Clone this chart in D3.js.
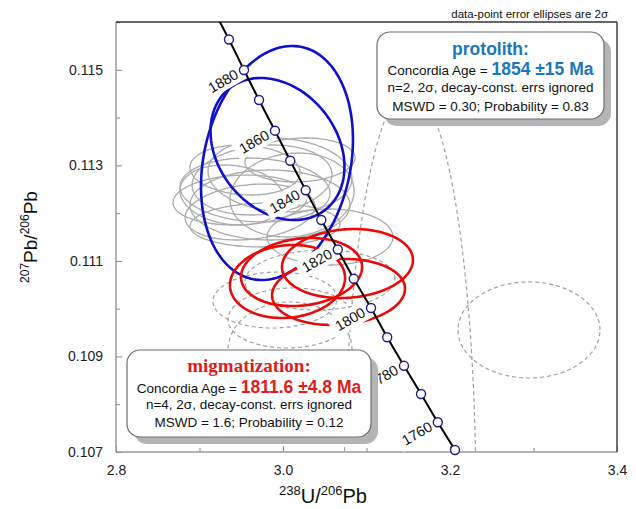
<!DOCTYPE html>
<html><head><meta charset="utf-8">
<script src="https://cdn.jsdelivr.net/npm/d3@7"></script>
<style>
body{margin:0;background:#fff}
svg{display:block}
text{font-family:"Liberation Sans",Arial,sans-serif}
</style>
</head><body>
<svg id="c" width="636" height="509"></svg>
<script>
// ---------- data ----------
const xDomain = [2.8, 3.4];
const yDomain = [0.107, 0.116];
const xMajorTicks = [2.8, 3.0, 3.2, 3.4];
const xMinorTicks = [2.9, 3.1, 3.3];
const yMajorTicks = [0.107, 0.109, 0.111, 0.113, 0.115];
const yMinorTicks = [0.108, 0.110, 0.112, 0.114, 0.116];

// concordia curve (age in Ma, 238U/206Pb, 207Pb/206Pb)
const concordiaAges = [1900,1890,1880,1870,1860,1850,1840,1830,1820,1810,1800,1790,1780,1770,1760,1750];
const concordiaX = [2.9168,2.9353,2.9533,2.9713,2.9904,3.0087,3.0272,3.0459,3.0656,3.0848,3.1054,3.1248,3.1449,3.1653,3.1854,3.2060];
const concordiaY = [0.116251,0.115634,0.114995,0.114367,0.113725,0.113097,0.112477,0.111856,0.111238,0.110625,0.110014,0.109401,0.108804,0.108214,0.107622,0.107042];
const markerAges = [1890,1880,1870,1860,1850,1840,1830,1820,1810,1800,1790,1780,1770,1760,1750];
const labelAges = [1880,1860,1840,1820,1800,1780,1760];

// error ellipses: centre x, centre y, 2σ x, 2σ y, correlation
const protolithEllipses = [
  {x:2.9928, y:0.113049, sx:0.0910, sy:0.002449, rho:0.2},
  {x:2.9934, y:0.113342, sx:0.0802, sy:0.001486, rho:-0.25}
];
const migmatizationEllipses = [
  {x:3.0054, y:0.110569, sx:0.0689, sy:0.000764, rho:0.1},
  {x:3.0222, y:0.110767, sx:0.0725, sy:0.000712, rho:0.15},
  {x:3.0772, y:0.110945, sx:0.0784, sy:0.000722, rho:0.1},
  {x:3.0665, y:0.110349, sx:0.0796, sy:0.000691, rho:0.1}
];
const otherEllipses = [
  {x:2.9485, y:0.112274, sx:0.0802, sy:0.000523, rho:0.1},
  {x:2.9665, y:0.112484, sx:0.0898, sy:0.000670, rho:-0.1},
  {x:2.9749, y:0.112693, sx:0.0838, sy:0.000733, rho:0.15},
  {x:2.9964, y:0.112798, sx:0.0862, sy:0.000774, rho:-0.1},
  {x:2.9605, y:0.112023, sx:0.0778, sy:0.000586, rho:0.2},
  {x:2.9844, y:0.112170, sx:0.0958, sy:0.000733, rho:0},
  {x:2.9389, y:0.112379, sx:0.0623, sy:0.000628, rho:-0.15},
  {x:3.0108, y:0.112379, sx:0.0743, sy:0.000879, rho:0.1},
  {x:2.9784, y:0.111751, sx:0.0898, sy:0.000460, rho:0.05},
  {x:3.0563, y:0.111500, sx:0.0754, sy:0.000586, rho:0},
  {x:3.0204, y:0.113112, sx:0.0659, sy:0.000460, rho:0.1},
  {x:2.9545, y:0.112902, sx:0.0659, sy:0.000523, rho:-0.1}
];
const excludedEllipses = [
  {x:3.1521, y:0.105995, sx:0.0790, sy:0.008602, rho:0},
  {x:3.2946, y:0.109554, sx:0.0850, sy:0.001005, rho:0},
  {x:2.9904, y:0.110181, sx:0.0743, sy:0.000586, rho:0.05},
  {x:3.0084, y:0.109805, sx:0.0743, sy:0.000628, rho:0.05},
  {x:3.0443, y:0.110600, sx:0.0898, sy:0.000628, rho:0.05},
  {x:3.0084, y:0.109135, sx:0.0743, sy:0.001005, rho:0}
];

const noteText = "data-point error ellipses are 2σ";
const protolithLines = ["protolith:", "Concordia Age = ", "1854 ±15 Ma", "n=2, 2σ, decay-const. errs ignored", "MSWD = 0.30; Probability  = 0.83"];
const migmatizationLines = ["migmatization:", "Concordia Age = ", "1811.6 ±4.8 Ma", "n=4, 2σ, decay-const. errs ignored", "MSWD = 1.6; Probability  = 0.12"];

// ---------- drawing ----------
const svg = d3.select("#c");
const L = 116, R = 617, T = 22, B = 452;
const x = d3.scaleLinear().domain(xDomain).range([L, R]);
const y = d3.scaleLinear().domain(yDomain).range([B, T]);

svg.append("defs").append("clipPath").attr("id","plotclip")
  .append("rect").attr("x",L).attr("y",T).attr("width",R-L).attr("height",B-T);

// ticks
function tickAxis(gen, vals, size, tr, fmt) {
  const g = svg.append("g").attr("transform", tr)
    .call(gen.tickValues(vals).tickSizeInner(-size).tickSizeOuter(0).tickPadding(13).tickFormat(fmt));
  g.select(".domain").remove();
  g.selectAll(".tick line").attr("stroke","#888").attr("stroke-width",1);
  g.selectAll(".tick text").attr("fill","#222").style("font-size","14px")
    .style("font-family","'Liberation Sans',Arial,sans-serif");
  return g;
}
tickAxis(d3.axisLeft(y), yMajorTicks, 6, `translate(${L},0)`, d3.format(".3f"));
tickAxis(d3.axisLeft(y), yMinorTicks, 4, `translate(${L},0)`, () => "");
tickAxis(d3.axisBottom(x), xMajorTicks, 6, `translate(0,${B})`, d3.format(".1f"));
tickAxis(d3.axisBottom(x), xMinorTicks, 4, `translate(0,${B})`, () => "");

// frame
svg.append("line").attr("x1",L).attr("y1",T).attr("x2",L).attr("y2",B).attr("stroke","#999").attr("stroke-width",1.5);
svg.append("line").attr("x1",L).attr("y1",B).attr("x2",R).attr("y2",B).attr("stroke","#999").attr("stroke-width",1.5);
svg.append("line").attr("x1",L).attr("y1",T).attr("x2",R).attr("y2",T).attr("stroke","#333").attr("stroke-width",1.5);
svg.append("line").attr("x1",R).attr("y1",T).attr("x2",R).attr("y2",B).attr("stroke","#444").attr("stroke-width",1.5);

const plot = svg.append("g").attr("clip-path","url(#plotclip)");

function ellipsePts(e) {
  const pts = [];
  const k = Math.sqrt(1 - e.rho*e.rho);
  for (let i = 0; i <= 180; i++) {
    const t = i/180*2*Math.PI;
    pts.push([x(e.x + e.sx*Math.cos(t)), y(e.y + e.sy*(e.rho*Math.cos(t) + k*Math.sin(t)))]);
  }
  return pts;
}
const lineGen = d3.line();
function drawEllipses(data, stroke, width, dash) {
  plot.append("g").selectAll("path").data(data).join("path")
    .attr("d", d => lineGen(ellipsePts(d)) + "Z")
    .attr("fill","none").attr("stroke",stroke).attr("stroke-width",width)
    .attr("stroke-dasharray", dash || null);
}
drawEllipses(otherEllipses, "#ababab", 1.3);
drawEllipses(excludedEllipses, "#a0a0a0", 1.2, "4,3");
drawEllipses(protolithEllipses, "#1010c8", 2.6);
drawEllipses(migmatizationEllipses, "#e80a0a", 2.6);

// concordia
const conc = concordiaAges.map((a,i) => ({age:a, x:concordiaX[i], y:concordiaY[i]}));
const byAge = new Map(conc.map(d => [d.age, d]));

// age labels (white backgrounds mask ellipses)
const lab = svg.append("g");
labelAges.forEach(a => {
  const d = byAge.get(a);
  const g = lab.append("g").attr("transform", `translate(${x(d.x)-21},${y(d.y)+11}) rotate(-30)`);
  g.append("rect").attr("x",-21).attr("y",-9.5).attr("width",42).attr("height",19).attr("fill","#fff");
  g.append("text").attr("text-anchor","middle").attr("dy","0.36em")
    .style("font-size","14.5px").attr("fill","#111").text(a);
});

plot.append("path").datum(conc)
  .attr("d", d3.line().x(d => x(d.x)).y(d => y(d.y)).curve(d3.curveCatmullRom))
  .attr("fill","none").attr("stroke","#000").attr("stroke-width",2);
svg.append("g").selectAll("circle").data(markerAges.map(a => byAge.get(a))).join("circle")
  .attr("cx", d => x(d.x)).attr("cy", d => y(d.y)).attr("r",4.5)
  .attr("fill","#fff").attr("stroke","#1c1c8a").attr("stroke-width",1.4);

// result boxes
function resultBox(bx, by, bw, bh, lines, color, titleFont, titleSize, baselines) {
  const g = svg.append("g");
  g.append("rect").attr("x",bx+7).attr("y",by+7).attr("width",bw).attr("height",bh).attr("rx",13)
    .attr("fill","#b4b4b4");
  g.append("rect").attr("x",bx).attr("y",by).attr("width",bw).attr("height",bh).attr("rx",13)
    .attr("fill","#fff").attr("stroke","#6e6e6e").attr("stroke-width",1.2);
  const cx = bx + bw/2;
  g.append("text").attr("x",cx).attr("y",baselines[0]).attr("text-anchor","middle")
    .style("font-family",titleFont).style("font-size",titleSize).style("font-weight","bold")
    .attr("fill",color).text(lines[0]);
  const t = g.append("text").attr("x",cx).attr("y",baselines[1]).attr("text-anchor","middle").attr("fill","#111");
  t.append("tspan").style("font-size","13.5px").text(lines[1]);
  t.append("tspan").style("font-size","17.5px").style("font-weight","bold").attr("fill",color).text(lines[2]);
  g.append("text").attr("x",cx).attr("y",baselines[2]).attr("text-anchor","middle").attr("fill","#111")
    .style("font-size","13.5px").text(lines[3]);
  g.append("text").attr("x",cx).attr("y",baselines[3]).attr("text-anchor","middle").attr("fill","#111")
    .style("font-size","13.5px").text(lines[4]);
}
resultBox(377, 32, 227, 87, protolithLines, "#1b76bc", "'Liberation Sans',Arial,sans-serif", "17.5px", [55, 75, 92, 111]);
resultBox(127, 350, 244, 87, migmatizationLines, "#e31a1c", "'Liberation Serif','Times New Roman',serif", "19px", [372, 393, 409, 427]);

// note
svg.append("text").attr("x",608).attr("y",18).attr("text-anchor","end")
  .style("font-size","11.5px").attr("fill","#111").text(noteText);

// axis titles
const yl = svg.append("text").attr("transform","translate(37,237) rotate(-90)").attr("text-anchor","middle").attr("fill","#111");
yl.append("tspan").style("font-size","12px").attr("dy",-8).text("207");
yl.append("tspan").style("font-size","19px").attr("dy",8).text("Pb/");
yl.append("tspan").style("font-size","12px").attr("dy",-8).text("206");
yl.append("tspan").style("font-size","19px").attr("dy",8).text("Pb");

const xl = svg.append("text").attr("transform","translate(323,503)").attr("text-anchor","middle").attr("fill","#111");
xl.append("tspan").style("font-size","13px").attr("dy",-8).text("238");
xl.append("tspan").style("font-size","20px").attr("dy",8).text("U/");
xl.append("tspan").style("font-size","13px").attr("dy",-8).text("206");
xl.append("tspan").style("font-size","20px").attr("dy",8).text("Pb");
</script>
</body></html>
